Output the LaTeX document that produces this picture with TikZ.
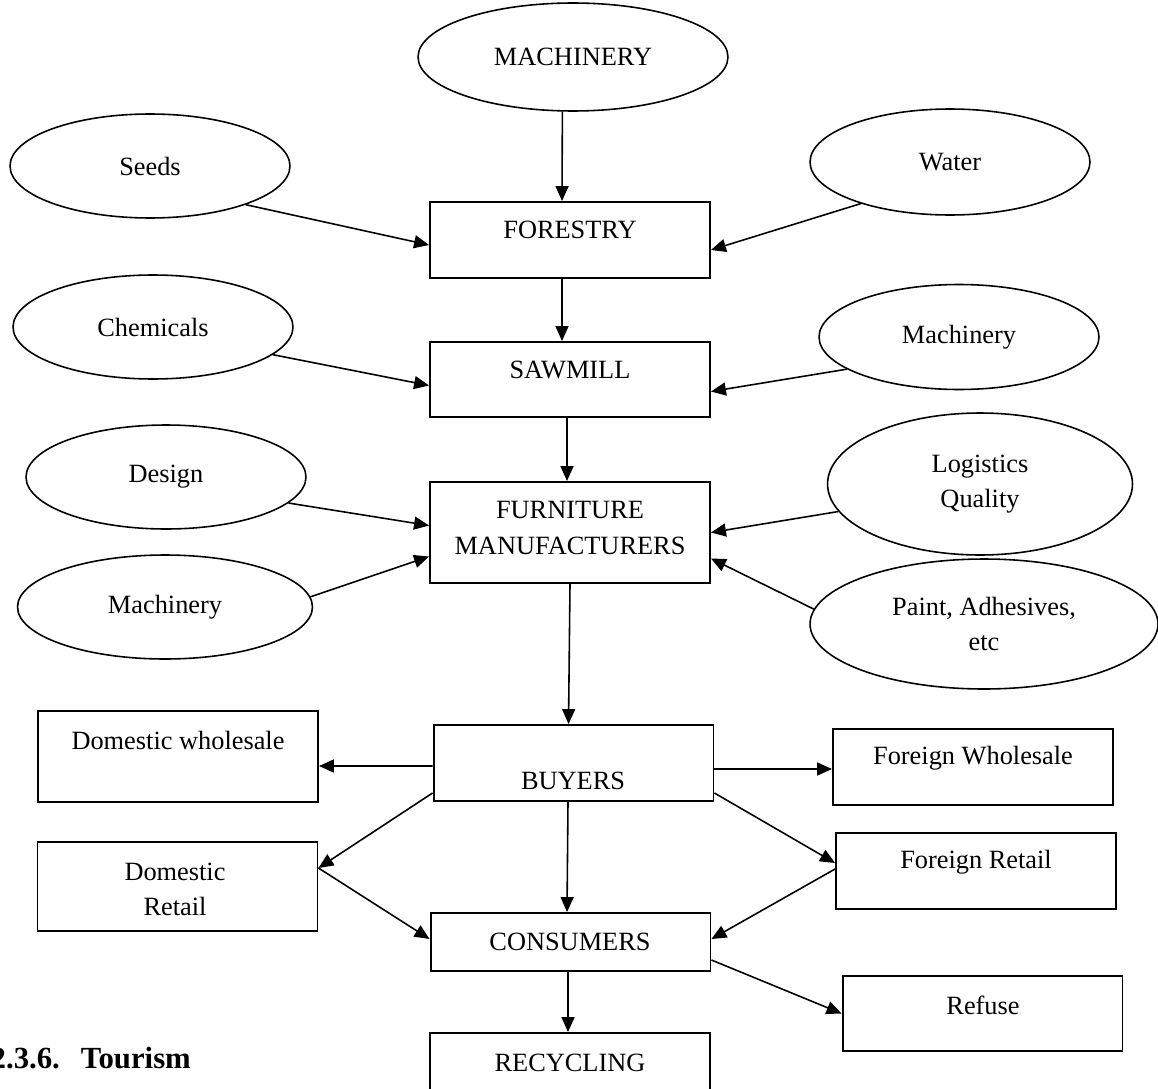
\documentclass[tikz,border=0pt]{standalone}
\usepackage{fontspec}
\setmainfont{Liberation Serif}
\usetikzlibrary{shapes.geometric}
\usetikzlibrary{arrows.meta}
\usetikzlibrary{calc}

\begin{document}
\begin{tikzpicture}[x=0.02cm, y=-0.02cm, font=\fontsize{15}{20}\selectfont,
    input/.style={ellipse, draw, line width=0.9pt, inner sep=0, minimum width=5.6cm, minimum height=2.08cm, align=center},
    stage/.style={rectangle, draw, line width=1.1pt, inner sep=0, minimum width=5.6cm},
    flow/.style={-{Triangle[length=0.3cm, width=0.26cm]}, line width=0.9pt}]
        \useasboundingbox (0,0) rectangle (1158,1088);

        % inputs
        \node (mach) [input, minimum width=6.2cm, minimum height=2.16cm] at (573,57) {MACHINERY};
        \node (seeds) [input] at (150,166) {Seeds};
        \node (water) [input, minimum height=2.12cm] at (950,162) {Water};
        \node (chem) [input] at (153,327) {Chemicals};
        \node (machr) [input, minimum height=2.1cm] at (959,337) {Machinery};
        \node (design) [input] at (166,477) {Design};
        \node (machl) [input, minimum width=5.9cm] at (165,607) {Machinery};
        \node (logq) [input, minimum width=6.1cm, minimum height=2.84cm] at (980,484) {Logistics\\Quality};
        \node (paint) [input, minimum width=6.96cm, minimum height=2.6cm] at (984,624) {Paint, Adhesives,\\etc};

        % chain
        \node (forestry) [stage, minimum height=1.52cm] at (570,240) {};
        \node (sawmill) [stage, minimum height=1.5cm] at (570,379.5) {};
        \node (furn) [stage, minimum height=2.02cm] at (570,532.5) {};
        \node (buyers) [stage, minimum height=1.52cm] at (573.5,763) {};
        \node (domwh) [stage, minimum height=1.82cm] at (178,756.5) {};
        \node (forwh) [stage, minimum height=1.52cm] at (973,767) {};
        \node (domret) [stage, minimum height=1.78cm] at (177.5,886.5) {};
        \node (forret) [stage, minimum height=1.52cm] at (976,871) {};
        \node (consumers) [stage, minimum height=1.16cm] at (570.5,942) {};
        \node (refuse) [stage, minimum height=1.5cm] at (982.5,1013.5) {};
        \node (recycling) [stage, minimum height=1.6cm] at (570,1073) {};

        \node (forestry-t) at (570,230) {FORESTRY};
        \node (sawmill-t) at (570,370) {SAWMILL};
        \node (furn-t) [align=center] at (570,528) {FURNITURE\\MANUFACTURERS};
        \node (buyers-t) at (573,781) {BUYERS};
        \node (domwh-t) at (178,740) {Domestic wholesale};
        \node (forwh-t) at (973,758) {Foreign Wholesale};
        \node (domret-t) [align=center] at (175,889) {Domestic\\Retail};
        \node (forret-t) at (976,862) {Foreign Retail};
        \node (consumers-t) at (570,942) {CONSUMERS};
        \node (refuse-t) at (983,1005) {Refuse};
        \node (recycling-t) at (570,1063) {RECYCLING};

        \node (sec) [anchor=base east, font=\fontsize{17.5}{20}\selectfont\bfseries] at (197,1068) {2.3.6.\hspace{0.42cm}Tourism};

        \path[flow]
        (mach.259) edge ($(forestry.north)+(-8,0)$)
        (seeds.-22) edge ($(forestry.west)+(0,5)$)
        (water.205) edge ($(forestry.east)+(0,10)$)
        ($(forestry.south)+(-8,0)$) edge ($(sawmill.north)+(-8,0)$)

        (chem.-13) edge ($(sawmill.west)+(0,6)$)
        (machr.196) edge ($(sawmill.east)+(0,12)$)
        ($(sawmill.south)+(-3,0)$) edge ($(furn.north)+(-3,0)$)

        (design.-12) edge ($(furn.west)+(0,-7)$)
        (machl.4) edge ($(furn.west)+(0,24)$)
        (logq.191) edge (furn.east)
        (paint.175) edge ($(furn.east)+(0,26)$)
        (furn.south) edge ($(buyers.north)+(-5,0)$)

        ($(buyers.west)+(0,3)$) edge ($(domwh.east)+(0,9.5)$)
        ($(buyers.east)+(0,6)$) edge ($(forwh.west)+(0,2)$)
        ($(buyers.west)+(0,30)$) edge ($(domret.east)+(0,-18.5)$)
        ($(buyers.east)+(0,30)$) edge ($(forret.west)+(0,-8)$)
        ($(buyers.south)+(-5.5,0)$) edge ($(consumers.north)+(-3.5,0)$)

        ($(domret.east)+(0,-18.5)$) edge ($(consumers.west)+(0,-3)$)
        ($(forret.west)+(0,-2)$) edge ($(consumers.east)+(0,-3)$)
        ($(consumers.south)+(-2.5,0)$) edge ($(recycling.north)+(-2,0)$)
        ($(consumers.east)+(0,18)$) edge (refuse.west)
        ;
\end{tikzpicture}
\end{document}
